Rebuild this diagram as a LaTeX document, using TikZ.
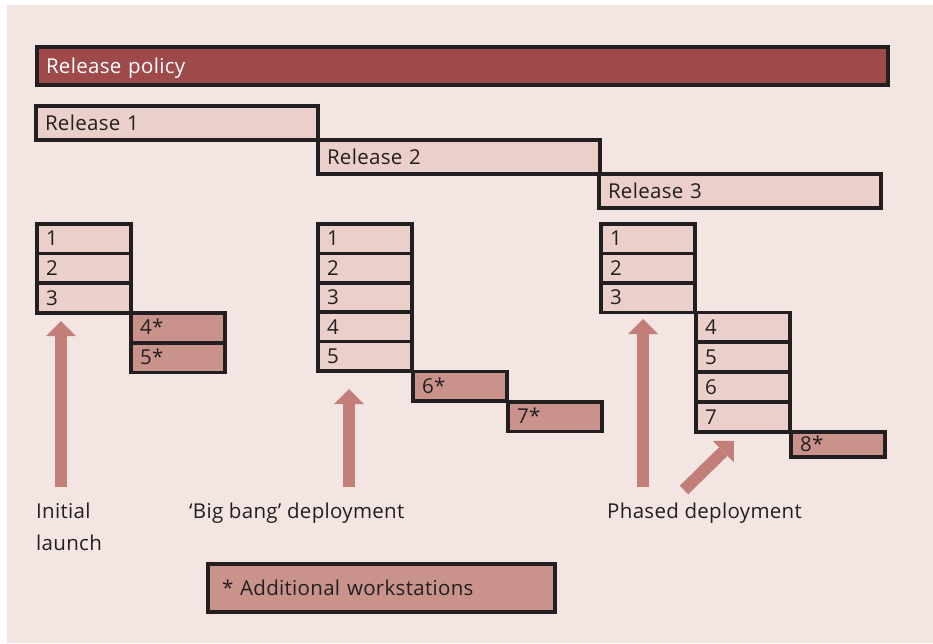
\documentclass[tikz,border=0pt]{standalone}
\usepackage{fontspec}
\setmainfont[LetterSpace=1.5]{Open Sans}
\usetikzlibrary{arrows.meta}
\definecolor{bgc}{HTML}{F3E5E2}
\definecolor{policy}{HTML}{9E4A4A}
\definecolor{light}{HTML}{EACFCB}
\definecolor{dark}{HTML}{C9938C}
\definecolor{arr}{HTML}{C27E79}
\definecolor{ink}{HTML}{231F20}
\begin{document}
\begin{tikzpicture}[x=1pt,y=-1pt,
  every node/.style={font=\fontsize{20.5}{24}\selectfont, text=ink},
  box/.style={draw=ink, line width=3.5pt, outer sep=0pt, anchor=north west, inner xsep=9pt, inner ysep=0pt, text height=14pt, text depth=0pt, align=left},
  lbox/.style={box, fill=light},
  dbox/.style={box, fill=dark},
  cell/.style={minimum width=94pt, minimum height=29.6pt, text width=76pt},
  rel/.style={minimum width=282pt, minimum height=34pt, text width=264pt},
  fat/.style={draw=arr, line width=12pt, -{Triangle[width=30pt,length=15pt,line width=0pt]}},
  lab/.style={anchor=base west, inner sep=0pt}]
\useasboundingbox (0,0) rectangle (933,643);
\fill[white] (0,0) rectangle (933,643);
\fill[bgc] (7,5) rectangle (933,643);
% release policy
\node[box, fill=policy, text=white, minimum width=851pt, minimum height=38pt, text width=833pt] (policy) at (37,47) {Release policy};
% releases
\node[lbox, rel] (r1) at (36,106) {Release 1};
\node[lbox, rel] (r2) at (318,140) {Release 2};
\node[lbox, rel] (r3) at (599,174) {Release 3};
% initial launch stack
\node[lbox, cell] (a1) at (37,224) {1};
\node[lbox, cell] (a2) at (37,253.6) {2};
\node[lbox, cell] (a3) at (37,283.2) {3};
\node[dbox, cell] (a4) at (131,313) {4*};
\node[dbox, cell] (a5) at (131,343) {5*};
% big bang stack
\node[lbox, cell] (b1) at (318,224) {1};
\node[lbox, cell] (b2) at (318,253.4) {2};
\node[lbox, cell] (b3) at (318,282.8) {3};
\node[lbox, cell] (b4) at (318,312.2) {4};
\node[lbox, cell] (b5) at (318,341.6) {5};
\node[dbox, cell] (b6) at (413,371.5) {6*};
\node[dbox, cell] (b7) at (508,402) {7*};
% phased stack
\node[lbox, cell] (c1) at (601,224) {1};
\node[lbox, cell] (c2) at (601,253.5) {2};
\node[lbox, cell] (c3) at (601,283) {3};
\node[lbox, cell] (c4) at (696,312.5) {4};
\node[lbox, cell] (c5) at (696,342.5) {5};
\node[lbox, cell] (c6) at (696,372.5) {6};
\node[lbox, cell] (c7) at (696,402.5) {7};
\node[dbox, cell, minimum height=25pt] (c8) at (791,432) {8*};
% arrows
\coordinate (t1) at (61,487);  \coordinate (h1) at (61,321);
\coordinate (t2) at (349,487); \coordinate (h2) at (349,389);
\coordinate (t3) at (643,487); \coordinate (h3) at (643,319);
\coordinate (t4) at (684,490); \coordinate (h4) at (734,441);
\draw[fat] (t1) -- (h1);
\draw[fat] (t2) -- (h2);
\draw[fat] (t3) -- (h3);
\draw[fat] (t4) -- (h4);
% labels
\node[lab] (l1) at (36,518) {Initial};
\node[lab] (l1b) at (36,550) {launch};
\node[lab] (l2) at (189,518) {‘Big bang’ deployment};
\node[lab] (l3) at (607,518) {Phased deployment};
% legend
\node[dbox, minimum width=347pt, minimum height=48pt, text width=319pt, inner xsep=14pt] (legend) at (208,564) {* Additional workstations};
\end{tikzpicture}
\end{document}
